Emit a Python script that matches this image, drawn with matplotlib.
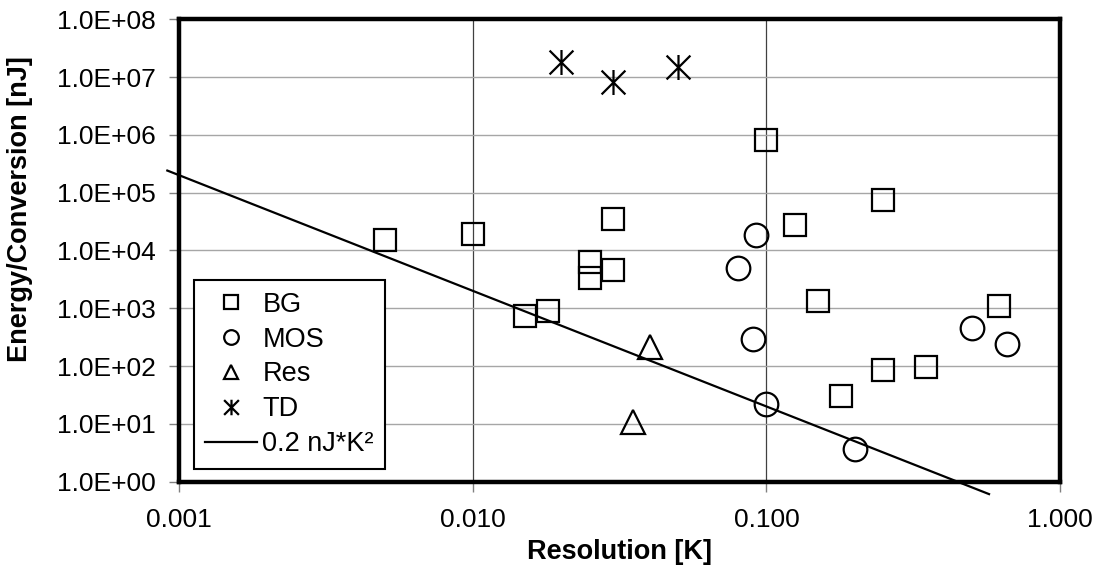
import numpy as np
import matplotlib.pyplot as plt
from matplotlib.path import Path
from matplotlib.ticker import FuncFormatter, LogLocator, NullLocator

plt.rcParams['font.family'] = ['Liberation Sans', 'DejaVu Sans']

# resolution [K] and energy per conversion [nJ] by sensor type
bg_x = [0.005, 0.010, 0.015, 0.018, 0.025, 0.025, 0.030, 0.030,
        0.100, 0.125, 0.150, 0.180, 0.250, 0.250, 0.350, 0.620]
bg_y = [1.5e4, 1.9e4, 740, 900, 6400, 3300, 3.5e4, 4600,
        8.2e5, 2.8e4, 1340, 30, 7.5e4, 85, 95, 1100]
mos_x = [0.080, 0.090, 0.092, 0.100, 0.200, 0.500, 0.660]
mos_y = [5000, 300, 1.85e4, 22, 3.7, 450, 240]
res_x = [0.035, 0.040]
res_y = [10.7, 217]
td_x = [0.020, 0.030, 0.050]
td_y = [1.85e7, 8.3e6, 1.5e7]

# fit line E = 0.2 nJ*K^2 / res^2
k = 0.2
fit_x = np.array([0.00091, 0.573])
fit_y = k / fit_x**2

# excel style asterisk: an X with a vertical bar through it
star = Path([(-1, -1), (1, 1), (-1, 1), (1, -1), (0, -1.05), (0, 1.05)],
            [Path.MOVETO, Path.LINETO] * 3)

fig = plt.figure(figsize=(11.05, 5.68), dpi=100)
ax = fig.add_axes([0.1623, 0.152, 0.7970, 0.814])

mk = dict(linestyle='none', markerfacecolor='none', markeredgecolor='black',
          markeredgewidth=1.6, color='black')
ax.plot(bg_x, bg_y, marker='s', markersize=15.5, label='BG', **mk)
ax.plot(mos_x, mos_y, marker='o', markersize=17, label='MOS', **mk)
ax.plot(res_x, res_y, marker='^', markersize=17, label='Res', **mk)
ax.plot(td_x, td_y, marker=star, markersize=18, label='TD', **mk)
ax.plot(fit_x, fit_y, color='black', lw=1.6, clip_on=False,
        label='0.2 nJ*K\u00b2')

ax.set_xscale('log')
ax.set_yscale('log')
ax.set_xlim(0.001, 1)
ax.set_ylim(1, 1e8)
ax.xaxis.set_major_locator(LogLocator(base=10, numticks=10))
ax.yaxis.set_major_locator(LogLocator(base=10, numticks=20))
ax.xaxis.set_minor_locator(NullLocator())
ax.yaxis.set_minor_locator(NullLocator())
ax.xaxis.set_major_formatter(FuncFormatter(lambda v, p: '%.3f' % v))
ax.yaxis.set_major_formatter(FuncFormatter(lambda v, p: '%.1E' % v))

ax.grid(axis='y', color='#a6a6a6', lw=1)
ax.grid(axis='x', color='#404040', lw=0.9)
ax.set_axisbelow(True)
for s in ax.spines.values():
    s.set_linewidth(3.2)
ax.tick_params(axis='both', labelsize=19, length=7, width=1,
               color='#808080', direction='out')
ax.tick_params(axis='y', pad=10)
ax.tick_params(axis='x', pad=12)

ax.set_xlabel('Resolution [K]', fontsize=19.5, fontweight='bold')
ax.set_ylabel('Energy/Conversion [nJ]', fontsize=19.5, fontweight='bold')
ax.xaxis.set_label_coords(0.5, -0.125)
ax.yaxis.set_label_coords(-0.166, 0.59)

leg = ax.legend(loc='lower left', bbox_to_anchor=(0.0167, 0.028),
                borderaxespad=0, fontsize=19.5, fancybox=False,
                framealpha=1, edgecolor='black', markerscale=0.62,
                handlelength=1.9, handletextpad=0.2, labelspacing=0.33,
                borderpad=0.42)
leg.get_frame().set_linewidth(1.5)

fig.savefig('out.png', dpi=100)
